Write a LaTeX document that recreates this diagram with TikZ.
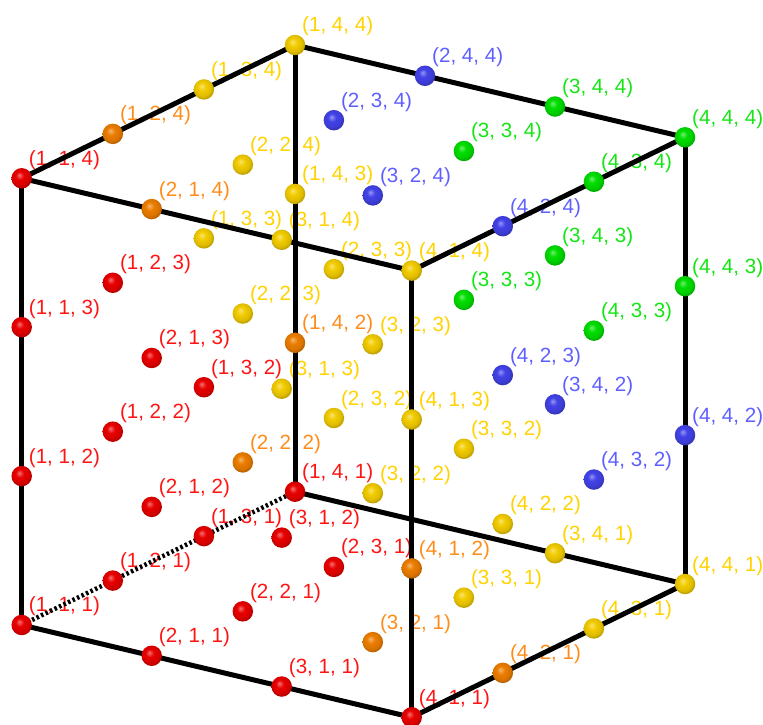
\documentclass[tikz,border=0pt]{standalone}
\usepackage{fontspec}
\setmainfont{Liberation Sans}
\pgfdeclarelayer{labels}
\pgfdeclarelayer{edges}
\pgfsetlayers{labels,edges,main}
\definecolor{ballR}{RGB}{232,0,0}
\definecolor{ballO}{RGB}{236,125,0}
\definecolor{ballY}{RGB}{242,204,0}
\definecolor{ballB}{RGB}{66,66,232}
\definecolor{ballG}{RGB}{0,222,0}
\definecolor{txtR}{RGB}{255,20,20}
\definecolor{txtO}{RGB}{255,140,25}
\definecolor{txtY}{RGB}{255,210,0}
\definecolor{txtB}{RGB}{95,95,255}
\definecolor{txtG}{RGB}{20,230,20}
\colorlet{mybc}{red}
\pgfdeclareradialshading[mybc]{myball}{\pgfqpoint{-6bp}{8bp}}{%
  color(0bp)=(mybc!55!white); color(10bp)=(mybc); color(21bp)=(mybc!92!black);
  color(26bp)=(mybc!80!black); color(50bp)=(mybc!70!black)}
\tikzset{
  ballnode/.style={circle, inner sep=0pt, minimum size=20.5pt,
    /utils/exec={\colorlet{mybc}{#1}}, shade, shading=myball},
  lab/.style={font=\fontsize{20.6}{24}\selectfont, inner sep=0pt,
    anchor=base west, xshift=7pt, yshift=13pt},
  edge/.style={line width=5pt, black, line cap=round},
  hidden/.style={line width=4.5pt, black, dash pattern=on 2.5pt off 2.5pt}
}
\begin{document}
\begin{tikzpicture}
\useasboundingbox (0,0) rectangle (763pt,725pt);
\begin{scope}[shift={(-199.4pt,-62.56pt)}, x={(130pt,-30.77pt)}, y={(91.1pt,44.43pt)}, z={(0pt,148.9pt)}]
\foreach \i/\j/\k/\c in {
  1/1/1/R,1/1/2/R,1/1/3/R,1/1/4/R,
  1/2/1/R,1/2/2/R,1/2/3/R,1/2/4/O,
  1/3/1/R,1/3/2/R,1/3/3/Y,1/3/4/Y,
  1/4/1/R,1/4/2/O,1/4/3/Y,1/4/4/Y,
  2/1/1/R,2/1/2/R,2/1/3/R,2/1/4/O,
  2/2/1/R,2/2/2/O,2/2/3/Y,2/2/4/Y,
  2/3/1/R,2/3/2/Y,2/3/3/Y,2/3/4/B,
  2/4/4/B,
  3/1/1/R,3/1/2/R,3/1/3/Y,3/1/4/Y,
  3/2/1/O,3/2/2/Y,3/2/3/Y,3/2/4/B,
  3/3/1/Y,3/3/2/Y,3/3/3/G,3/3/4/G,
  3/4/1/Y,3/4/2/B,3/4/3/G,3/4/4/G,
  4/1/1/R,4/1/2/O,4/1/3/Y,4/1/4/Y,
  4/2/1/O,4/2/2/Y,4/2/3/B,4/2/4/B,
  4/3/1/Y,4/3/2/B,4/3/3/G,4/3/4/G,
  4/4/1/Y,4/4/2/B,4/4/3/G,4/4/4/G}
{
  \node[ballnode=ball\c] (p\i\j\k) at (\i,\j,\k) {};
  \begin{pgfonlayer}{labels}
    \node[lab, text=txt\c] (l\i\j\k) at (p\i\j\k.center) {(\i, \j, \k)};
  \end{pgfonlayer}
}
\begin{pgfonlayer}{edges}
  \draw[edge] (p111.center) -- (p411.center);
  \draw[edge] (p411.center) -- (p441.center);
  \draw[edge] (p441.center) -- (p141.center);
  \draw[hidden] (p141.center) -- (p111.center);
  \draw[edge] (p111.center) -- (p114.center);
  \draw[edge] (p411.center) -- (p414.center);
  \draw[edge] (p441.center) -- (p444.center);
  \draw[edge] (p141.center) -- (p144.center);
  \draw[edge] (p114.center) -- (p414.center);
  \draw[edge] (p414.center) -- (p444.center);
  \draw[edge] (p444.center) -- (p144.center);
  \draw[edge] (p144.center) -- (p114.center);
\end{pgfonlayer}
\end{scope}
\end{tikzpicture}
\end{document}
